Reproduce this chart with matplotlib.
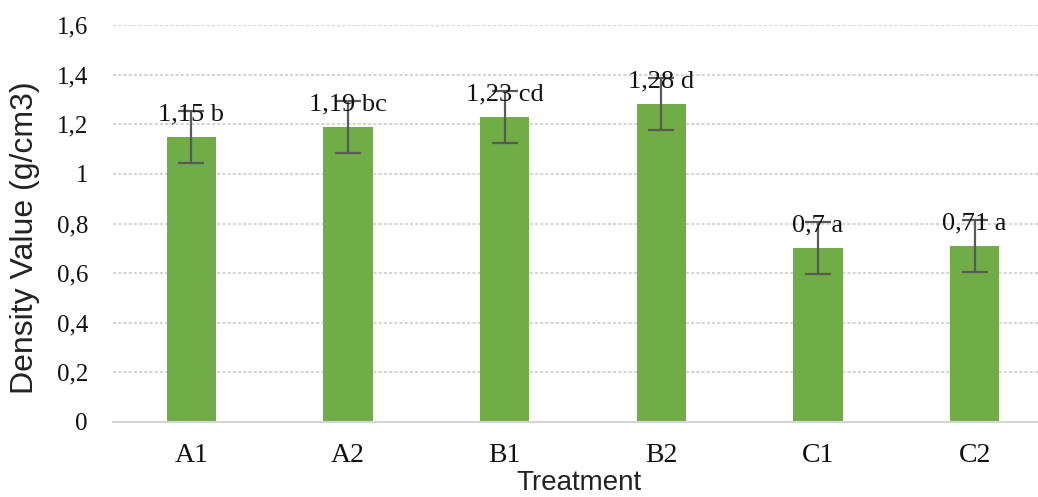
import numpy as np
import matplotlib
matplotlib.use("Agg")
import matplotlib.pyplot as plt

# Density per treatment with the significance letters
treatments = ["A1", "A2", "B1", "B2", "C1", "C2"]
density = [1.15, 1.19, 1.23, 1.28, 0.70, 0.71]
letters = ["b", "bc", "cd", "d", "a", "a"]
errors = [0.105, 0.105, 0.105, 0.105, 0.105, 0.105]
yticks = [0, 0.2, 0.4, 0.6, 0.8, 1.0, 1.2, 1.4, 1.6]

bar_color = "#70AD47"
err_color = "#595959"
grid_color = "#d5d5d5"
serif = "Liberation Serif"
sans = "Liberation Sans"


def comma(v):
    # decimal comma, trailing zeros dropped (1 -> "1", 0.7 -> "0,7")
    s = f"{v:.2f}".rstrip("0").rstrip(".")
    return s.replace(".", ",")


W, H = 1038, 497
fig = plt.figure(figsize=(W / 100, H / 100), dpi=100)
# axes reach slightly past the right edge of the figure
ax = fig.add_axes([113 / W, 75 / H, 940 / W, 397 / H])

x = np.arange(len(treatments))
ax.bar(x, density, width=0.313, color=bar_color, zorder=2)
ax.errorbar(x, density, yerr=errors, fmt="none", ecolor=err_color,
            elinewidth=1.6, capsize=9.5, capthick=1.6, zorder=3)

for xi, v, lt in zip(x, density, letters):
    ax.annotate(f"{comma(v)} {lt}", (xi, v), xytext=(0, 12), textcoords="offset points",
                ha="center", va="baseline", fontsize=19, family=serif, color="#111111",
                zorder=4)

ax.set_xlim(-0.5, len(treatments) - 0.5)
ax.set_ylim(0, 1.6)
ax.set_yticks(yticks)
ax.set_yticklabels([comma(t) for t in yticks], fontsize=18, family=serif, color="#111111")
ax.set_xticks(x)
ax.set_xticklabels(treatments, fontsize=20, family=serif, color="#111111")
ax.tick_params(axis="y", length=0, pad=18)
ax.tick_params(axis="x", length=0, pad=15)

ax.grid(axis="y", color=grid_color, linestyle=(0, (1.5, 1)), linewidth=1.5, zorder=0)
ax.set_axisbelow(True)
for side in ["top", "right", "left"]:
    ax.spines[side].set_visible(False)
ax.spines["bottom"].set_color(grid_color)
ax.spines["bottom"].set_linewidth(1.5)
ax.spines["bottom"].set_linestyle((0, (1.5, 1)))

fig.text(25 / W, 0.521, "Density Value (g/cm3)", rotation=90, ha="center", va="center",
         fontsize=23, family=sans, color="#222222")
fig.text(579 / W, 1 / H, "Treatment", ha="center", va="bottom",
         fontsize=20, family=sans, color="#222222")

fig.savefig("out.png", dpi=100)
